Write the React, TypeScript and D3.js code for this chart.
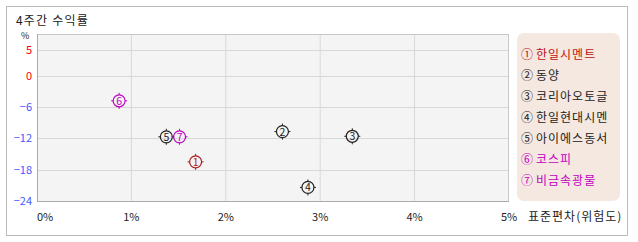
import React from "react";
import * as d3 from "d3";

const names = ["한일시멘트", "동양", "코리아오토글", "한일현대시멘", "아이에스동서", "코스피", "비금속광물"];
const glyphs = ["①", "②", "③", "④", "⑤", "⑥", "⑦"];
const colors = ["#b01818", "#222222", "#222222", "#222222", "#222222", "#c000c0", "#c000c0"];
const xValues = [1.68, 2.6, 3.34, 2.87, 1.37, 0.87, 1.51];
const yValues = [-16.5, -10.7, -11.6, -21.4, -11.7, -4.8, -11.7];
const xTicks = [0, 1, 2, 3, 4, 5];
const yTicks = [5, 0, -6, -12, -18, -24];

const FONT = "'Noto Sans CJK KR', 'Noto Sans', sans-serif";

export default function App() {
  const W = 638, H = 242;
  const L = 37, R = 509, T = 34, B = 201;
  const x = d3.scaleLinear().domain([0, 5]).range([L, R]);
  const y = d3.scaleLinear().domain([-24, 8]).range([B, T]);
  return (
    <svg width={W} height={H} style={{ position: "absolute", left: 0, top: 0 }} fontFamily={FONT}>
      <rect x={0} y={0} width={W} height={H} fill="#fff" />
      <rect x={6.5} y={6.5} width={621} height={229} fill="#fff" stroke="#bbb" />
      <text x={16} y={24.5} fontSize={12} fill="#222" letterSpacing={1.2}>4주간 수익률</text>
      <text x={21} y={39} fontSize={9} fill="#222">%</text>
      <rect x={L} y={T} width={R - L} height={B - T} fill="#f4f4f4" />
      {xTicks.slice(1, -1).map((t) => (
        <line key={"gx" + t} x1={x(t)} x2={x(t)} y1={T} y2={B} stroke="#d8d8d8" />
      ))}
      {yTicks.slice(0, -1).map((t) => (
        <line key={"gy" + t} x1={L} x2={R} y1={Math.round(y(t)) + 0.5} y2={Math.round(y(t)) + 0.5} stroke="#d8d8d8" />
      ))}
      <line x1={L} x2={R} y1={T + 0.5} y2={T + 0.5} stroke="#c8c8c8" />
      <line x1={R - 0.5} x2={R - 0.5} y1={T} y2={B} stroke="#c8c8c8" />
      <line x1={L + 0.5} x2={L + 0.5} y1={T} y2={B} stroke="#aaa" />
      <line x1={L} x2={R} y1={B + 0.5} y2={B + 0.5} stroke="#aaa" />
      {yTicks.map((t) => (
        <text key={"yt" + t} x={32} y={y(t) + 4} fontSize={11} textAnchor="end" fill={t >= 0 ? "#ff0000" : "#4455ff"}>
          {t > 0 ? String(t) : t === 0 ? "0" : "−" + Math.abs(t)}
        </text>
      ))}
      {xTicks.map((t) => (
        <text key={"xt" + t} x={t === 0 ? L : x(t)} y={221} fontSize={11} textAnchor={t === 0 ? "start" : "middle"} fill="#222">
          {t + "%"}
        </text>
      ))}
      <text x={528} y={221} fontSize={12} fill="#222" letterSpacing={1}>표준편차(위험도)</text>
      {xValues.map((v, i) => {
        const cx = x(v), cy = y(yValues[i]);
        return (
          <g key={"p" + i} stroke={colors[i]}>
            <circle cx={cx} cy={cy} r={6} fill="none" strokeWidth={1.2} />
            <line x1={cx} x2={cx} y1={cy - 8} y2={cy - 6} />
            <line x1={cx} x2={cx} y1={cy + 6} y2={cy + 8} />
            <line x1={cx - 8} x2={cx - 6} y1={cy} y2={cy} />
            <line x1={cx + 6} x2={cx + 8} y1={cy} y2={cy} />
            <text x={cx} y={cy + 4} fontSize={10.5} textAnchor="middle" fill={colors[i]} stroke="none">
              {String(i + 1)}
            </text>
          </g>
        );
      })}
      <rect x={517} y={33} width={103} height={168} rx={7} fill="#f5e8e0" />
      {names.map((n, i) => (
        <g key={"lg" + i} fill={colors[i] === "#b01818" ? "#c01010" : colors[i]} fontSize={12}>
          <text x={521} y={59 + i * 21}>{glyphs[i]}</text>
          <text x={536} y={59 + i * 21} letterSpacing={1}>{n}</text>
        </g>
      ))}
    </svg>
  );
}
